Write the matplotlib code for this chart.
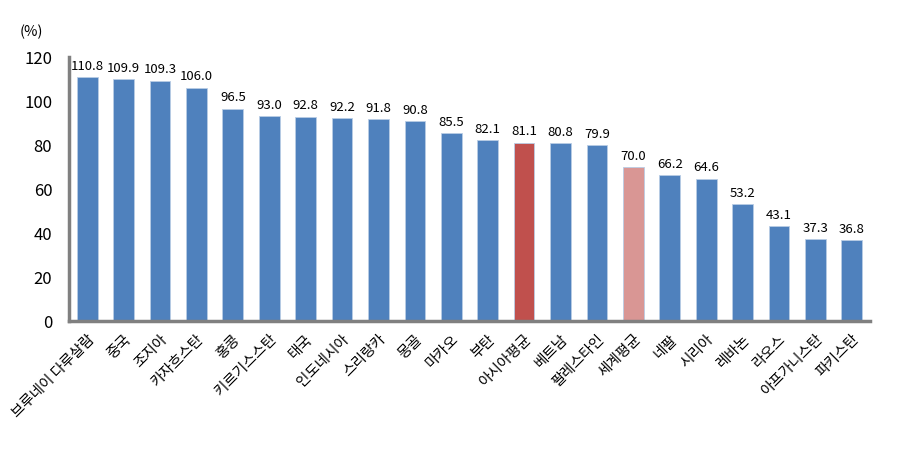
import numpy as np
import matplotlib.pyplot as plt

plt.rcParams['font.family'] = ['Noto Sans CJK KR', 'DejaVu Sans']

countries = ['브루네이 다루살람', '중국', '조지아', '카자흐스탄', '홍콩', '키르기스스탄', '태국',
             '인도네시아', '스리랑카', '몽골', '마카오', '부탄', '아시아평균', '베트남',
             '팔레스타인', '세계평균', '네팔', '시리아', '레바논', '라오스', '아프가니스탄', '파키스탄']
values = [110.8, 109.9, 109.3, 106.0, 96.5, 93.0, 92.8, 92.2, 91.8, 90.8, 85.5, 82.1,
          81.1, 80.8, 79.9, 70.0, 66.2, 64.6, 53.2, 43.1, 37.3, 36.8]

colors = ['#4F81BD'] * len(values)
colors[countries.index('아시아평균')] = '#C0504D'
colors[countries.index('세계평균')] = '#D99694'

fig = plt.figure(figsize=(9.11, 4.51), dpi=100)
ax = fig.add_axes([69 / 911, 1 - 321 / 451, 801 / 911, 264 / 451])

x = np.arange(len(values))
ax.bar(x, values, width=0.57, color=colors, edgecolor='#B9CDE5', linewidth=0.6)
for i, v in enumerate(values):
    ax.text(i, v + 2, f'{v:.1f}', ha='center', va='bottom', fontsize=9.5)

ax.set_xlim(-0.5, len(values) - 0.5)
ax.set_ylim(0, 120)
ax.set_yticks(range(0, 121, 20))
ax.set_xticks(x)
ax.set_xticklabels(countries, rotation=45, ha='right', rotation_mode='anchor')
ax.tick_params(axis='both', length=0)
ax.tick_params(axis='x', labelsize=10.5, pad=8)
ax.tick_params(axis='y', labelsize=12, pad=12)

for s in ['top', 'right']:
    ax.spines[s].set_visible(False)
for s in ['left', 'bottom']:
    ax.spines[s].set_color('#808080')
    ax.spines[s].set_linewidth(2.5)

fig.text(20 / 911, 1 - 32 / 451, '(%)', fontsize=10.5, va='center')

fig.savefig('out.png', dpi=100)
